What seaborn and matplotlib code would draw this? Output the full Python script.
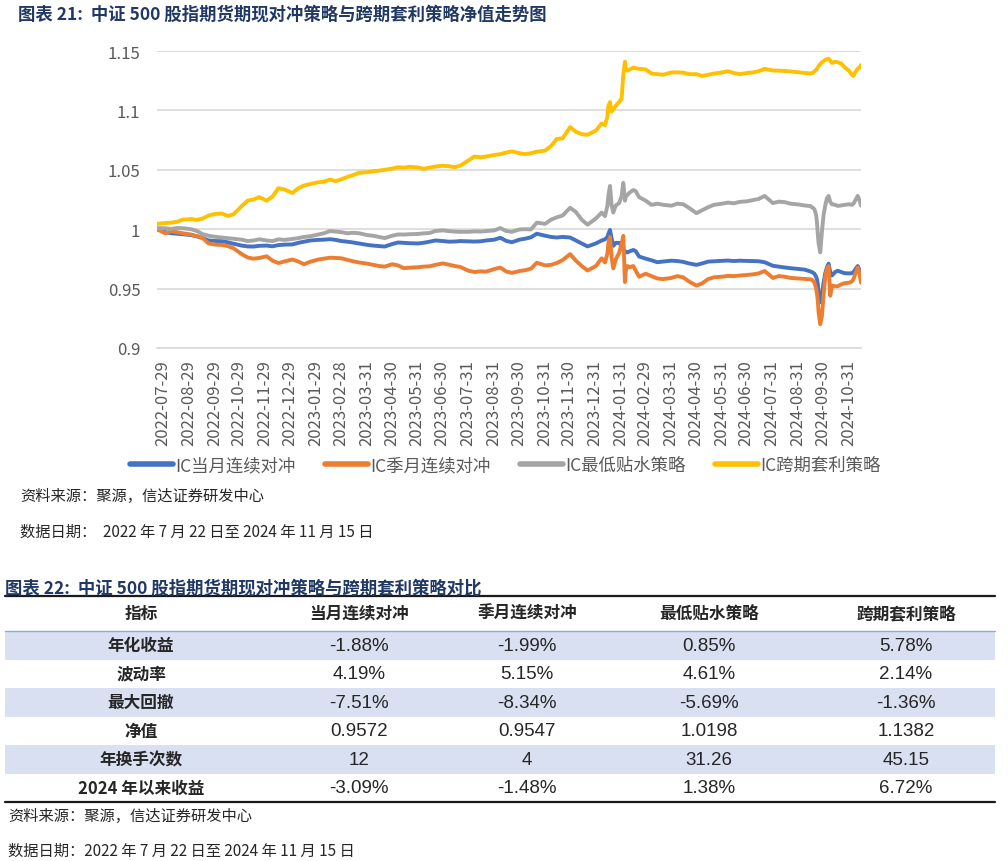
import pandas as pd
import matplotlib.pyplot as plt
import seaborn as sns

sns.set_style("white")
plt.rcParams["font.family"] = ["Noto Sans CJK SC", "DejaVu Sans"]
plt.rcParams["axes.unicode_minus"] = False

# Data - net value curves
dates = [
    "2022-07-22",
    "2022-08-01", "2022-08-08", "2022-08-15", "2022-08-22",
    "2022-09-01", "2022-09-08", "2022-09-15", "2022-09-22",
    "2022-10-01", "2022-10-08", "2022-10-15", "2022-10-22",
    "2022-11-01", "2022-11-08", "2022-11-15", "2022-11-22",
    "2022-12-01", "2022-12-08", "2022-12-15", "2022-12-22",
    "2023-01-01", "2023-01-08", "2023-01-15", "2023-01-22",
    "2023-02-01", "2023-02-08", "2023-02-15", "2023-02-22",
    "2023-03-01", "2023-03-08", "2023-03-15", "2023-03-22",
    "2023-04-01", "2023-04-08", "2023-04-15", "2023-04-22",
    "2023-05-01", "2023-05-08", "2023-05-15", "2023-05-22",
    "2023-06-01", "2023-06-08", "2023-06-15", "2023-06-22",
    "2023-07-01", "2023-07-08", "2023-07-15", "2023-07-22",
    "2023-08-01", "2023-08-08", "2023-08-15", "2023-08-22",
    "2023-09-01", "2023-09-08", "2023-09-15", "2023-09-22",
    "2023-10-01", "2023-10-08", "2023-10-15", "2023-10-22",
    "2023-11-01", "2023-11-08", "2023-11-15", "2023-11-22",
    "2023-12-01", "2023-12-08", "2023-12-15", "2023-12-22",
    "2024-01-01", "2024-01-08", "2024-01-12", "2024-01-15", "2024-01-16",
    "2024-01-18", "2024-01-20", "2024-01-22", "2024-01-25", "2024-01-29",
    "2024-02-01", "2024-02-03", "2024-02-05", "2024-02-06", "2024-02-08",
    "2024-02-11", "2024-02-15", "2024-02-18", "2024-02-22",
    "2024-03-01", "2024-03-08", "2024-03-15", "2024-03-22",
    "2024-04-01", "2024-04-08", "2024-04-15", "2024-04-22",
    "2024-05-01", "2024-05-08", "2024-05-15", "2024-05-22",
    "2024-06-01", "2024-06-08", "2024-06-15", "2024-06-22",
    "2024-07-01", "2024-07-08", "2024-07-15", "2024-07-22",
    "2024-08-01", "2024-08-08", "2024-08-15", "2024-08-22",
    "2024-09-01", "2024-09-08", "2024-09-15", "2024-09-18", "2024-09-20",
    "2024-09-22", "2024-09-23", "2024-09-24", "2024-09-25", "2024-09-27", "2024-09-29",
    "2024-10-01", "2024-10-03", "2024-10-05", "2024-10-07", "2024-10-09",
    "2024-10-11", "2024-10-15", "2024-10-18", "2024-10-22", "2024-10-26",
    "2024-11-01", "2024-11-04", "2024-11-06", "2024-11-08", "2024-11-11",
    "2024-11-13", "2024-11-15",
]

ic_month = [
    1.0000,
    0.9975, 0.9966, 0.9962, 0.9958,
    0.9950, 0.9940, 0.9925, 0.9905,
    0.9900, 0.9900, 0.9890, 0.9878,
    0.9862, 0.9855, 0.9854, 0.9860,
    0.9862, 0.9856, 0.9866, 0.9870,
    0.9872, 0.9885, 0.9895, 0.9905,
    0.9910, 0.9912, 0.9916, 0.9910,
    0.9900, 0.9895, 0.9888, 0.9880,
    0.9868, 0.9862, 0.9858, 0.9854,
    0.9875, 0.9888, 0.9885, 0.9882,
    0.9880, 0.9886, 0.9895, 0.9905,
    0.9900, 0.9895, 0.9896, 0.9900,
    0.9898, 0.9896, 0.9898, 0.9905,
    0.9912, 0.9928, 0.9902, 0.9890,
    0.9912, 0.9920, 0.9932, 0.9962,
    0.9945, 0.9935, 0.9930, 0.9935,
    0.9930, 0.9905, 0.9880, 0.9855,
    0.9880, 0.9905, 0.9915, 0.9935, 0.9960,
    0.9994, 0.9920, 0.9860, 0.9885, 0.9885,
    0.9860, 0.9832, 0.9815, 0.9805, 0.9805,
    0.9815, 0.9825, 0.9815, 0.9770,
    0.9752, 0.9738, 0.9722, 0.9728,
    0.9735, 0.9732, 0.9725, 0.9712,
    0.9700, 0.9712, 0.9727, 0.9730,
    0.9734, 0.9736, 0.9732, 0.9735,
    0.9733, 0.9732, 0.9730, 0.9722,
    0.9692, 0.9685, 0.9678, 0.9672,
    0.9665, 0.9660, 0.9645, 0.9635, 0.9625,
    0.9600, 0.9580, 0.9540, 0.9460, 0.9385, 0.9450,
    0.9550, 0.9630, 0.9680, 0.9710, 0.9640,
    0.9610, 0.9640, 0.9650, 0.9640, 0.9630,
    0.9628, 0.9630, 0.9640, 0.9660, 0.9690,
    0.9660, 0.9620,
]

ic_quarter = [
    1.0000,
    0.9965, 0.9984, 0.9975, 0.9966,
    0.9955, 0.9942, 0.9925, 0.9880,
    0.9870, 0.9868, 0.9858, 0.9840,
    0.9790, 0.9762, 0.9752, 0.9758,
    0.9772, 0.9735, 0.9715, 0.9728,
    0.9745, 0.9728, 0.9705, 0.9725,
    0.9745, 0.9752, 0.9760, 0.9758,
    0.9755, 0.9742, 0.9730, 0.9720,
    0.9710, 0.9700, 0.9690, 0.9685,
    0.9705, 0.9695, 0.9672, 0.9676,
    0.9680, 0.9685, 0.9688, 0.9700,
    0.9712, 0.9702, 0.9690, 0.9682,
    0.9650, 0.9640, 0.9645, 0.9643,
    0.9665, 0.9677, 0.9645, 0.9632,
    0.9648, 0.9655, 0.9668, 0.9718,
    0.9695, 0.9700, 0.9715, 0.9740,
    0.9790, 0.9735, 0.9690, 0.9652,
    0.9690, 0.9755, 0.9720, 0.9800, 0.9880,
    0.9935, 0.9760, 0.9670, 0.9747, 0.9800,
    0.9880, 0.9944, 0.9555, 0.9650, 0.9690,
    0.9680, 0.9690, 0.9650, 0.9600,
    0.9625, 0.9605, 0.9585, 0.9580,
    0.9590, 0.9605, 0.9595, 0.9560,
    0.9525, 0.9545, 0.9580, 0.9595,
    0.9600, 0.9607, 0.9605, 0.9610,
    0.9615, 0.9620, 0.9628, 0.9648,
    0.9590, 0.9605, 0.9600, 0.9590,
    0.9585, 0.9582, 0.9578, 0.9570, 0.9550,
    0.9500, 0.9460, 0.9400, 0.9300, 0.9200, 0.9270,
    0.9450, 0.9600, 0.9670, 0.9690, 0.9440,
    0.9525, 0.9520, 0.9520, 0.9535, 0.9545,
    0.9550, 0.9560, 0.9580, 0.9620, 0.9677,
    0.9640, 0.9550,
]

ic_low_basis = [
    1.0010,
    1.0008, 1.0002, 1.0010, 1.0008,
    1.0000, 0.9985, 0.9958, 0.9945,
    0.9935, 0.9930, 0.9925, 0.9920,
    0.9912, 0.9900, 0.9905, 0.9915,
    0.9905, 0.9900, 0.9915, 0.9910,
    0.9918, 0.9925, 0.9935, 0.9940,
    0.9955, 0.9966, 0.9984, 0.9980,
    0.9975, 0.9966, 0.9970, 0.9966,
    0.9950, 0.9945, 0.9935, 0.9925,
    0.9945, 0.9956, 0.9955, 0.9958,
    0.9960, 0.9965, 0.9968, 0.9985,
    0.9990, 0.9984, 0.9980, 0.9978,
    0.9978, 0.9982, 0.9980, 0.9984,
    0.9990, 1.0010, 0.9985, 0.9978,
    0.9998, 1.0000, 0.9998, 1.0055,
    1.0045, 1.0080, 1.0100, 1.0115,
    1.0180, 1.0145, 1.0080, 1.0038,
    1.0090, 1.0140, 1.0110, 1.0200, 1.0280,
    1.0364, 1.0200, 1.0140, 1.0200, 1.0220,
    1.0280, 1.0390, 1.0240, 1.0270, 1.0290,
    1.0310, 1.0330, 1.0320, 1.0270,
    1.0240, 1.0205, 1.0215, 1.0205,
    1.0198, 1.0215, 1.0210, 1.0180,
    1.0135, 1.0160, 1.0185, 1.0205,
    1.0215, 1.0224, 1.0218, 1.0230,
    1.0235, 1.0245, 1.0255, 1.0280,
    1.0220, 1.0232, 1.0228, 1.0215,
    1.0208, 1.0200, 1.0195, 1.0180, 1.0168,
    1.0120, 1.0060, 0.9960, 0.9880, 0.9805, 0.9980,
    1.0120, 1.0200, 1.0260, 1.0280, 1.0230,
    1.0210, 1.0205, 1.0196, 1.0200, 1.0205,
    1.0210, 1.0205, 1.0215, 1.0240, 1.0280,
    1.0250, 1.0198,
]

ic_calendar = [
    1.0045,
    1.0052, 1.0055, 1.0062, 1.0080,
    1.0085, 1.0078, 1.0090, 1.0115,
    1.0130, 1.0132, 1.0112, 1.0125,
    1.0195, 1.0240, 1.0250, 1.0270,
    1.0240, 1.0275, 1.0345, 1.0335,
    1.0305, 1.0345, 1.0368, 1.0380,
    1.0395, 1.0400, 1.0418, 1.0405,
    1.0420, 1.0440, 1.0455, 1.0475,
    1.0480, 1.0488, 1.0493, 1.0500,
    1.0510, 1.0522, 1.0518, 1.0525,
    1.0520, 1.0508, 1.0518, 1.0528,
    1.0534, 1.0530, 1.0522, 1.0535,
    1.0580, 1.0612, 1.0605, 1.0612,
    1.0625, 1.0632, 1.0645, 1.0655,
    1.0640, 1.0632, 1.0640, 1.0652,
    1.0662, 1.0700, 1.0760, 1.0765,
    1.0860, 1.0820, 1.0800, 1.0795,
    1.0830, 1.0890, 1.0875, 1.0950, 1.1037,
    1.1070, 1.0990, 1.1010, 1.1040, 1.1070,
    1.1100, 1.1300, 1.1410, 1.1340, 1.1335,
    1.1345, 1.1360, 1.1355, 1.1350,
    1.1345, 1.1310, 1.1305, 1.1300,
    1.1320, 1.1320, 1.1318, 1.1305,
    1.1305, 1.1290, 1.1300, 1.1310,
    1.1320, 1.1330, 1.1315, 1.1305,
    1.1315, 1.1320, 1.1330, 1.1350,
    1.1335, 1.1335, 1.1332, 1.1328,
    1.1320, 1.1315, 1.1312, 1.1315, 1.1330,
    1.1340, 1.1350, 1.1360, 1.1375, 1.1390, 1.1405,
    1.1415, 1.1425, 1.1430, 1.1435, 1.1420,
    1.1400, 1.1410, 1.1405, 1.1395, 1.1365,
    1.1330, 1.1300, 1.1290, 1.1320, 1.1350,
    1.1360, 1.1382,
]

series_names = ["IC当月连续对冲", "IC季月连续对冲", "IC最低贴水策略", "IC跨期套利策略"]
series_colors = ["#4472C4", "#ED7D31", "#A5A5A5", "#FFC000"]

tick_dates = [
    "2022-07-29", "2022-08-29", "2022-09-29", "2022-10-29", "2022-11-29",
    "2022-12-29", "2023-01-29", "2023-02-28", "2023-03-31", "2023-04-30",
    "2023-05-31", "2023-06-30", "2023-07-31", "2023-08-31", "2023-09-30",
    "2023-10-31", "2023-11-30", "2023-12-31", "2024-01-31", "2024-02-29",
    "2024-03-31", "2024-04-30", "2024-05-31", "2024-06-30", "2024-07-31",
    "2024-08-31", "2024-09-30", "2024-10-31",
]
y_ticks = [0.9, 0.95, 1.0, 1.05, 1.1, 1.15]
y_labels = ["0.9", "0.95", "1", "1.05", "1.1", "1.15"]

# Data - comparison table
col_names = ["指标", "当月连续对冲", "季月连续对冲", "最低贴水策略", "跨期套利策略"]
row_names = ["年化收益", "波动率", "最大回撤", "净值", "年换手次数", "2024 年以来收益"]
month_vals = ["-1.88%", "4.19%", "-7.51%", "0.9572", "12", "-3.09%"]
quarter_vals = ["-1.99%", "5.15%", "-8.34%", "0.9547", "4", "-1.48%"]
low_basis_vals = ["0.85%", "4.61%", "-5.69%", "1.0198", "31.26", "1.38%"]
calendar_vals = ["5.78%", "2.14%", "-1.36%", "1.1382", "45.15", "6.72%"]

source_text = "资料来源：聚源，信达证券研发中心"
date_text = "数据日期：  2022 年 7 月 22 日至 2024 年 11 月 15 日"

# long-form frame for seaborn
df = pd.DataFrame({
    "date": pd.to_datetime(dates * 4),
    "value": ic_month + ic_quarter + ic_low_basis + ic_calendar,
    "series": sum([[s] * len(dates) for s in series_names], []),
})

W, H = 1008, 862
fig = plt.figure(figsize=(W / 100, H / 100), dpi=100)


def fx(x):
    return x / W


def fy(y):
    return 1 - y / H


# Line chart
ax = fig.add_axes([fx(157), fy(349), fx(861) - fx(157), fy(52) - fy(349)])
sns.lineplot(
    data=df, x="date", y="value", hue="series",
    hue_order=series_names, palette=series_colors,
    linewidth=2.8, estimator=None, sort=False, ax=ax
)

ax.set_xlim(pd.Timestamp(dates[0]), pd.Timestamp(dates[-1]))
ax.set_ylim(0.9, 1.15)
ax.set_yticks(y_ticks)
ax.set_yticklabels(y_labels)
ax.set_xticks(pd.to_datetime(tick_dates))
ax.set_xticklabels(tick_dates, rotation=90)
ax.set_xlabel("")
ax.set_ylabel("")

ax.yaxis.grid(True, color="#D9D9D9", linewidth=1.2)
ax.set_axisbelow(True)
for side in ["top", "right", "left"]:
    ax.spines[side].set_visible(False)
ax.spines["bottom"].set_color("#D9D9D9")
ax.spines["bottom"].set_linewidth(1.2)
ax.tick_params(axis="y", length=0, pad=12, labelsize=12, labelcolor="#595959")
ax.tick_params(axis="x", length=5, width=1, color="#D9D9D9", pad=3,
               labelsize=12, labelcolor="#595959")

handles, labels = ax.get_legend_handles_labels()
for h in handles:
    h.set_linewidth(4)
ax.legend(handles, labels, loc="center", bbox_to_anchor=(fx(505), fy(466)),
          bbox_transform=fig.transFigure, ncol=4, frameon=False,
          handlelength=2.5, handletextpad=0.1, columnspacing=1.7,
          fontsize=12.5, labelcolor="#595959")

# Text and table overlay (pixel coordinates)
ov = fig.add_axes([0, 0, 1, 1])
ov.set_xlim(0, W)
ov.set_ylim(H, 0)
ov.axis("off")

navy = "#1F3864"
ov.text(18, 15, "图表 21:  中证 500 股指期货期现对冲策略与跨期套利策略净值走势图",
        fontsize=12.5, fontweight="bold", color=navy, va="center")
ov.text(20, 496, source_text, fontsize=11, style="italic", va="center")
ov.text(20, 532, date_text, fontsize=11, style="italic", va="center")

ov.text(5, 589, "图表 22:  中证 500 股指期货期现对冲策略与跨期套利策略对比",
        fontsize=12.5, fontweight="bold", color=navy, va="center")

col_x = [141, 359, 527, 709, 906]
row_top = 632
row_h = 28.5
ov.plot([5, 995], [597, 597], color="#1A1A1A", linewidth=1.6)
for i, name in enumerate(col_names):
    ov.text(col_x[i], 614, name, fontsize=12, fontweight="bold",
            ha="center", va="center")
ov.plot([5, 995], [row_top, row_top], color="#8EA9DB", linewidth=1)

columns = [month_vals, quarter_vals, low_basis_vals, calendar_vals]
for r, name in enumerate(row_names):
    y0 = row_top + r * row_h
    if r % 2 == 0:
        ov.axhspan(y0, y0 + row_h, xmin=fx(5), xmax=fx(995),
                   color="#D9E0F1", linewidth=0, zorder=0)
    yc = y0 + row_h / 2
    ov.text(col_x[0], yc, name, fontsize=12, fontweight="bold",
            ha="center", va="center")
    for c, vals in enumerate(columns):
        ov.text(col_x[c + 1], yc, vals[r], fontsize=13.5,
                family=["Liberation Sans", "DejaVu Sans"],
                ha="center", va="center", color="#262626")
ov.plot([5, 995], [row_top + 6 * row_h, row_top + 6 * row_h],
        color="#1A1A1A", linewidth=1.6)

ov.text(8, 816, source_text, fontsize=11, style="italic", va="center")
ov.text(8, 851, date_text.replace("：  ", "："), fontsize=11, style="italic",
        va="center")

fig.savefig("out.png", dpi=100)
